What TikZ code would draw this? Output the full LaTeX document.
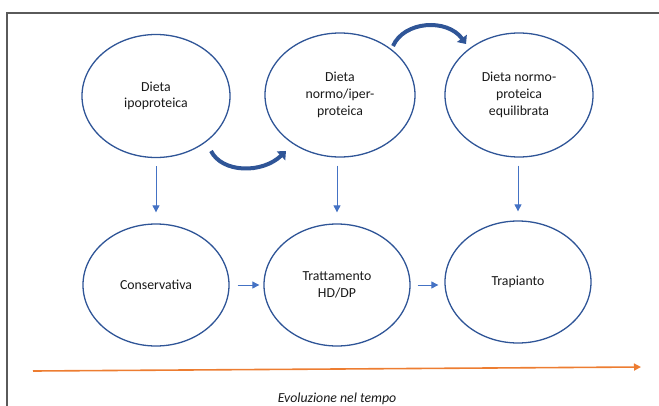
\documentclass[tikz,border=0pt]{standalone}
\usepackage{fontspec}
\setmainfont{Carlito}
\usetikzlibrary{shapes.geometric,arrows.meta}
\definecolor{ringblue}{HTML}{2F5597}
\definecolor{linkblue}{HTML}{4472C4}
\definecolor{timeorange}{HTML}{ED7D31}
\definecolor{framegray}{HTML}{5A5A5A}
\begin{document}
\begin{tikzpicture}[x=1pt,y=-1pt,
  phase/.style={ellipse,draw=ringblue,line width=1.3pt,minimum width=146pt,
    minimum height=122pt,inner sep=0pt,align=center,
    font=\fontsize{13.8}{16.7}\selectfont,text=black!90},
  link/.style={draw=linkblue,line width=0.9pt,-{Triangle[length=7pt,width=7pt]}},
  swing/.style={draw=ringblue,line width=4pt,-{Triangle[length=7pt,width=12pt]}},
  timeline/.style={draw=timeorange,line width=1.6pt,-{Triangle[length=7pt,width=7pt]}}]
\useasboundingbox (0,0) rectangle (659,405);
% outer frame
\draw[framegray,line width=1.5pt] (7,410) -- (7,13) -- (662,13);
% diet phases
\node[phase,minimum width=148pt,minimum height=123pt] (d1) at (156,96) {Dieta\\ipoproteica};
\node[phase,minimum width=150pt,minimum height=124pt] (d2) at (340,95) {Dieta\\normo/iper-\\proteica};
\node[phase,minimum width=148pt,minimum height=124pt] (d3) at (519,95) {Dieta normo-\\proteica\\equilibrata};
% treatment phases
\node[phase] (t1) at (156,285) {Conservativa};
\node[phase] (t2) at (337,285) {Trattamento\\HD/DP};
\node[phase] (t3) at (518,282) {Trapianto};
% vertical links
\draw[link] ([yshift=-8pt]d1.south -| t1.north) -- ([yshift=11pt]t1.north);
\draw[link] ([yshift=-8pt]d2.south -| t2.north) -- ([yshift=11pt]t2.north);
\draw[link] ([yshift=-8pt]d3.south -| t3.north) -- ([yshift=9pt]t3.north);
% horizontal links
\draw[link] ([xshift=8pt]t1.east) -- ([xshift=-4pt]t1.east -| t2.west);
\draw[link] ([xshift=7pt]t2.east) -- ([xshift=-6pt]t2.east -| t3.west);
% curved transitions between diets
\coordinate (s1) at (211,151);
\coordinate (e1) at (286,151);
\coordinate (s2) at (393,46);
\coordinate (e2) at (466,44);
\draw[swing] (s1) .. controls (222,173) and (262,174) .. (e1);
\draw[swing] (s2) .. controls (404,21) and (447,18) .. (e2);
% time axis
\coordinate (a0) at (33,371);
\coordinate (a1) at (641,367);
\draw[timeline] (a0) -- (a1);
\node[anchor=base,font=\fontsize{13.8}{16.7}\selectfont\itshape,text=black!90] (lbl) at (337,402) {Evoluzione nel tempo};
\end{tikzpicture}
\end{document}
